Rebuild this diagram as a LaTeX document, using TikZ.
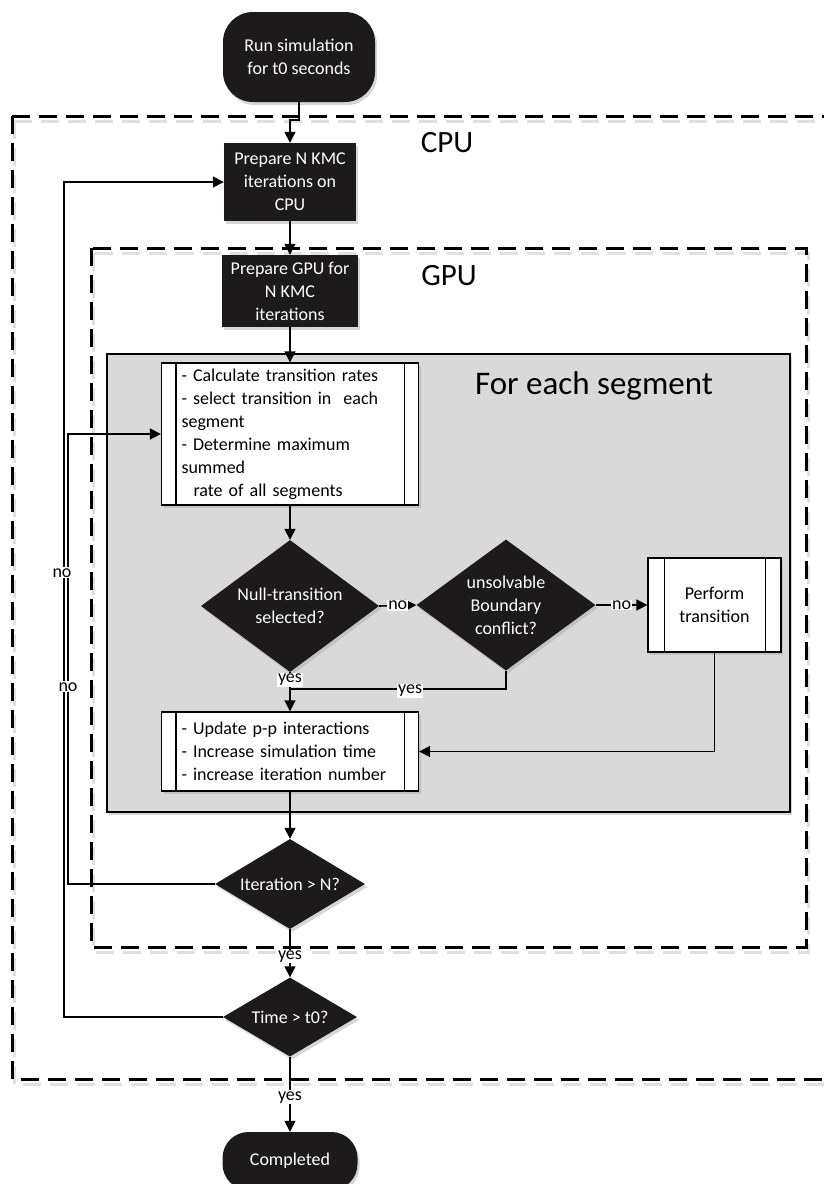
\documentclass[tikz,border=0pt]{standalone}
\usepackage{fontspec}
\setmainfont{Carlito}
\usetikzlibrary{arrows.meta,shapes.geometric,shadows}
\definecolor{darkfill}{RGB}{28,26,27}
\definecolor{regiongray}{RGB}{217,217,217}
\newcommand\fsz{\fontsize{18}{23}\selectfont}
\begin{document}
\begin{tikzpicture}[x=1pt,y=-1pt,
  conn/.style={line width=1.6pt},
  arr/.style={conn,-{Triangle[length=11pt,width=11pt]}},
  shad/.style={drop shadow={shadow xshift=2pt,shadow yshift=-3pt,fill=black!35,opacity=0.45}},
  blackbox/.style={rectangle,fill=darkfill,text=white,font=\fsz,align=center,inner sep=0pt,shad},
  term/.style={blackbox,rounded corners=30pt},
  dia/.style={diamond,fill=darkfill,text=white,font=\fsz,align=center,inner sep=0pt,shad},
  proc/.style={rectangle,draw=black,line width=1.3pt,fill=white,font=\fsz,shad},
  procline/.style={line width=1.3pt},
  lbl/.style={fill=white,inner sep=1pt,font=\fsz},
  dashbox/.style={line width=3pt,dash pattern=on 18pt off 9pt},
  dashshadow/.style={line width=3pt,dash pattern=on 18pt off 9pt,draw=black!12},
  title/.style={font=\fontsize{31}{36}\selectfont,inner sep=0pt}
]
\useasboundingbox (0,0) rectangle (824,1184);
\clip (0,0) rectangle (824,1184);
\fill[white] (0,0) rectangle (824,1184);

% CPU and GPU frames
\draw[dashshadow] (14,121) rectangle (842,1084);
\draw[dashbox] (12,116) rectangle (840,1079);
\node[title] (cpulabel) at (447,143) {CPU};

\draw[dashshadow] (93,253) rectangle (808,952);
\draw[dashbox] (91,248) rectangle (806,947);
\node[title] (gpulabel) at (449,276) {GPU};

% segment region
\node[rectangle,draw=black,line width=1.3pt,fill=regiongray,minimum width=683pt,minimum height=458pt,inner sep=0pt,shad] (seg) at (448.5,583) {};
\node[font=\fontsize{33}{38}\selectfont,inner sep=0pt] (seglabel) at (594,386) {For each segment};

% nodes
\node[term,minimum width=152pt,minimum height=90pt] (start) at (299,57) {Run simulation\\for t0 seconds};
\node[blackbox,minimum width=132pt,minimum height=78pt] (cpubox) at (290,182) {Prepare N KMC\\iterations on\\CPU};
\node[blackbox,minimum width=136pt,minimum height=72pt] (gpuprep) at (290,291) {Prepare GPU for\\N KMC\\iterations};

\node[proc,text width=217pt,inner xsep=20pt,inner ysep=0pt,minimum height=142pt,align=left] (b1) at (290,434)
  {- Calculate transition rates\\- select transition in\ \ each\\segment\\- Determine maximum\\summed\\\hspace*{12pt}rate of all segments};
\draw[procline] ([xshift=15pt]b1.north west) -- ([xshift=15pt]b1.south west);
\draw[procline] ([xshift=-15pt]b1.north east) -- ([xshift=-15pt]b1.south east);

\node[dia,minimum width=178pt,minimum height=132pt,aspect=1.35] (d1) at (290,606) {Null-transition\\selected?};
\node[dia,minimum width=179pt,minimum height=131pt,aspect=1.37] (d2) at (506,605) {unsolvable\\Boundary\\conflict?};

\node[proc,minimum width=133pt,minimum height=94pt,align=center,inner sep=0pt] (perf) at (714.5,605) {Perform\\transition};
\draw[procline] ([xshift=17pt]perf.north west) -- ([xshift=17pt]perf.south west);
\draw[procline] ([xshift=-16pt]perf.north east) -- ([xshift=-16pt]perf.south east);

\node[proc,text width=217pt,inner xsep=20pt,inner ysep=0pt,minimum height=79pt,align=left] (b2) at (290,751.5)
  {- Update p-p interactions\\- Increase simulation time\\- increase iteration number};
\draw[procline] ([xshift=15pt]b2.north west) -- ([xshift=15pt]b2.south west);
\draw[procline] ([xshift=-15pt]b2.north east) -- ([xshift=-15pt]b2.south east);

\node[dia,minimum width=150pt,minimum height=90pt,aspect=1.67] (d3) at (290,884) {Iteration > N?};
\node[dia,minimum width=134pt,minimum height=79pt,aspect=1.7] (d4) at (290,1017) {Time > t0?};

\node[term,rounded corners=26pt,minimum width=135pt,minimum height=58pt] (done) at (290,1161) {Completed};

% connectors
\draw[arr] (start.south) -- ++(0,18) -| (cpubox.north);
\draw[arr] (cpubox.south) -- (gpuprep.north);
\draw[arr] (gpuprep.south) -- (b1.north);
\draw[arr] (b1.south) -- (d1.north);
\draw[arr] (d1.east) -- node[lbl] {no} (d2.west);
\draw[arr] (d2.east) -- node[lbl] {no} (perf.west);
\coordinate (join) at (290,689);
\draw[arr] (d1.south) -- (b2.north);
\draw[conn] (d2.south) |- (join);
\path (d2.south) |- node[lbl,pos=0.722,yshift=-2pt] {yes} (join);
\path (d1.south) -- node[lbl,pos=0.2] {yes} (b2.north);
\draw[arr] (perf.south) |- (b2.east);
\draw[arr] (b2.south) -- (d3.north);
\draw[arr] (d3.south) -- node[lbl,pos=0.57] {yes} (d4.north);
\draw[arr] (d4.south) -- node[lbl,pos=0.54] {yes} (done.north);

% loop-back connectors
\coordinate (l1) at (68,434);
\coordinate (l2) at (64,182);
\draw[arr] (d3.west) -| (l1) -- (b1.west);
\draw[arr] (d4.west) -| (l2) -- (cpubox.west);
\path (d4.west) -| node[lbl,pos=0.766,xshift=-2pt] {no} (l2);
\path (d3.west) -| node[lbl,pos=0.719] {no} (l1);
\end{tikzpicture}
\end{document}
